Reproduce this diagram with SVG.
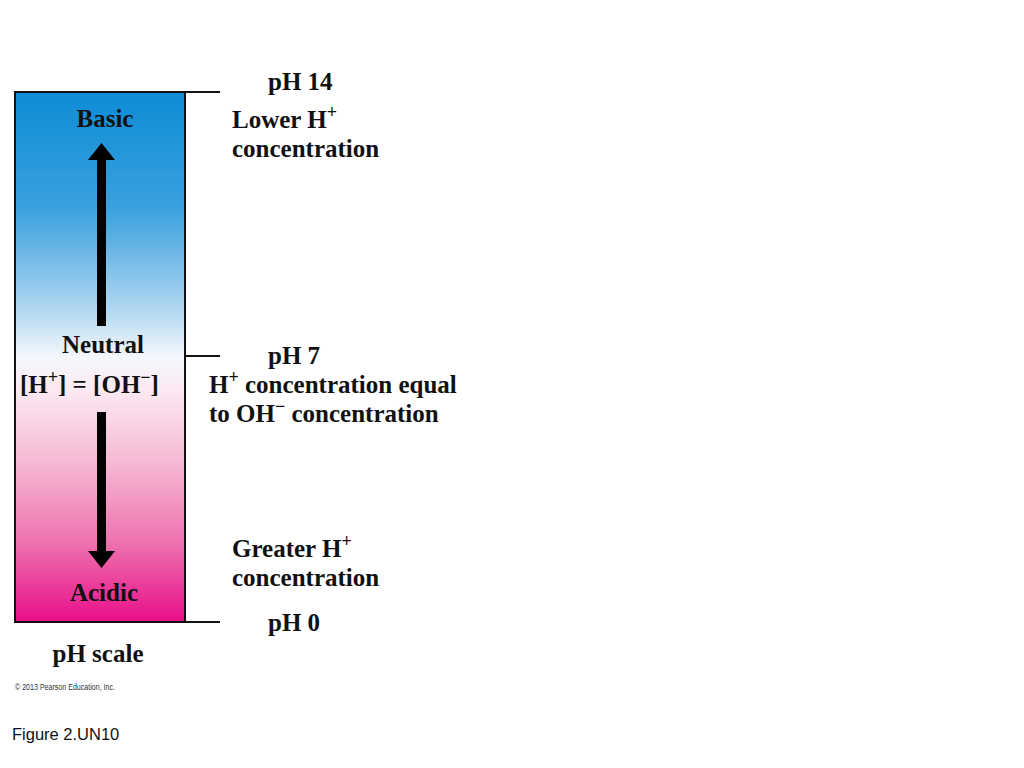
<svg xmlns="http://www.w3.org/2000/svg" width="1024" height="768" viewBox="0 0 1024 768">
<defs>
<linearGradient id="scale" x1="0" y1="0" x2="0" y2="1">
<stop offset="0" stop-color="#0e8cd6"/>
<stop offset="0.22" stop-color="#3aa1df"/>
<stop offset="0.4" stop-color="#a9d3ef"/>
<stop offset="0.5" stop-color="#f4f8fc"/>
<stop offset="0.56" stop-color="#fbeaf2"/>
<stop offset="0.7" stop-color="#f6b8d4"/>
<stop offset="0.85" stop-color="#ee72ae"/>
<stop offset="1" stop-color="#e80e8a"/>
</linearGradient>
<style>
.t{font-family:"Liberation Serif","Times New Roman",serif;font-weight:bold;font-size:25px;fill:#111}
.sup{font-size:18px}
.line{stroke:#111;stroke-width:2;fill:none}
.arrow{fill:#000}
</style>
</defs>
<g id="scale-bar">
<rect x="15" y="92" width="170" height="530" fill="url(#scale)" stroke="#111" stroke-width="2"/>
</g>
<g id="connectors">
<line class="line" x1="185" y1="92" x2="220" y2="92"/>
<line class="line" x1="185" y1="356" x2="220" y2="356"/>
<line class="line" x1="185" y1="622" x2="220" y2="622"/>
<path class="arrow" d="M97 326 V160 H88 L101.5 143 L115 160 H106 V326 Z"/>
<path class="arrow" d="M97 412 V551 H88 L101.5 568 L115 551 H106 V412 Z"/>
</g>
<g id="labels-left">
<text class="t" x="105" y="127" text-anchor="middle">Basic</text>
<text class="t" x="103" y="353" text-anchor="middle">Neutral</text>
<text class="t" x="20" y="393">[H<tspan class="sup" dy="-10">+</tspan><tspan dy="10">] = [OH</tspan><tspan class="sup" dy="-10">−</tspan><tspan dy="10">]</tspan></text>
<text class="t" x="104" y="601" text-anchor="middle">Acidic</text>
<text class="t" x="98" y="662" text-anchor="middle">pH scale</text>
</g>
<g id="ph14">
<text class="t" x="268" y="90">pH 14</text>
<text class="t" x="232" y="128">Lower H<tspan class="sup" dy="-10">+</tspan></text>
<text class="t" x="232" y="157">concentration</text>
</g>
<g id="ph7">
<text class="t" x="268" y="364">pH 7</text>
<text class="t" x="209" y="393">H<tspan class="sup" dy="-10">+</tspan><tspan dy="10"> concentration equal</tspan></text>
<text class="t" x="209" y="422">to OH<tspan class="sup" dy="-10">−</tspan><tspan dy="10"> concentration</tspan></text>
</g>
<g id="ph0">
<text class="t" x="232" y="557">Greater H<tspan class="sup" dy="-10">+</tspan></text>
<text class="t" x="232" y="586">concentration</text>
<text class="t" x="268" y="631">pH 0</text>
</g>
<text x="15" y="690" font-family="'Liberation Sans',Arial,sans-serif" font-size="8.5" fill="#333" textLength="100" lengthAdjust="spacingAndGlyphs">© 2013 Pearson Education, Inc.</text>
<text x="12" y="740" font-family="'Liberation Sans',Arial,sans-serif" font-size="16.5" fill="#111">Figure 2.UN10</text>
</svg>
